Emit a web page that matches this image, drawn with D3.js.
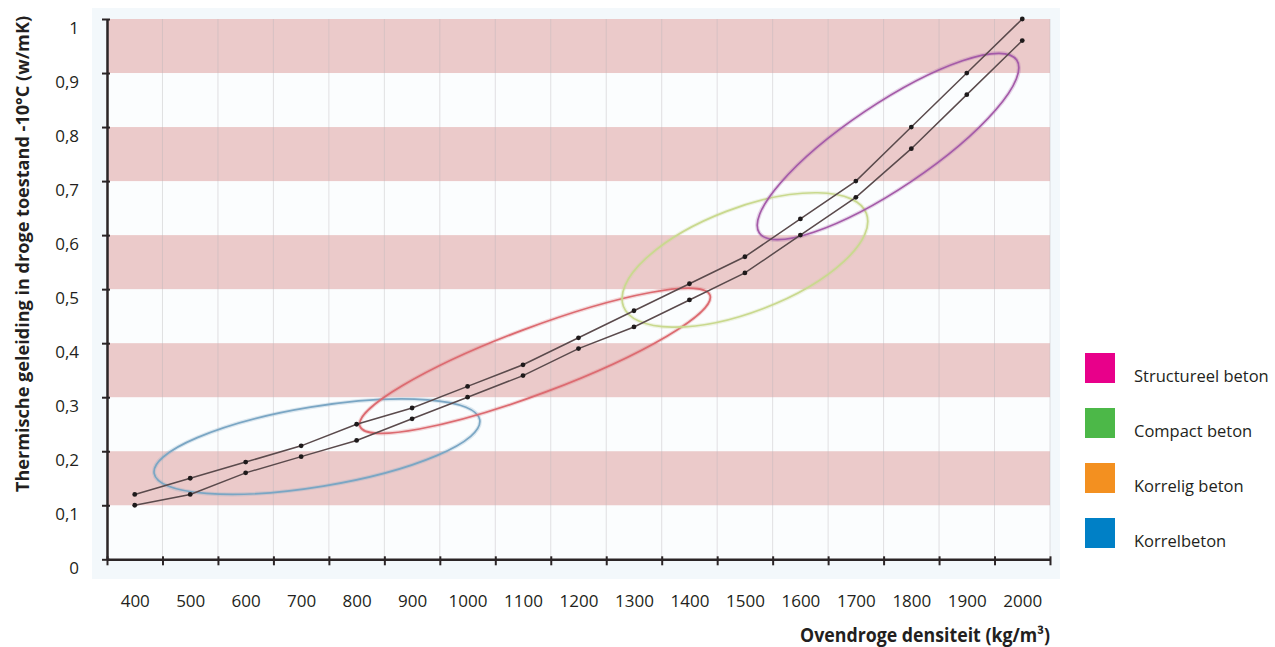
<!DOCTYPE html>
<html>
<head>
<meta charset="utf-8">
<script src="https://cdn.jsdelivr.net/npm/d3@7"></script>
<style>
  html, body { margin: 0; padding: 0; background: #ffffff; }
  svg { display: block; }
  text { font-family: "Open Sans", "Noto Sans", sans-serif; fill: #231f20; }
</style>
</head>
<body>
<svg id="chart" width="1275" height="647"></svg>
<script>
// ---------------- data ----------------
const densities = [400, 500, 600, 700, 800, 900, 1000, 1100, 1200, 1300, 1400, 1500, 1600, 1700, 1800, 1900, 2000];
const upperValues = [0.12, 0.15, 0.18, 0.21, 0.25, 0.28, 0.32, 0.36, 0.41, 0.46, 0.51, 0.56, 0.63, 0.70, 0.80, 0.90, 1.00];
const lowerValues = [0.10, 0.12, 0.16, 0.19, 0.22, 0.26, 0.30, 0.34, 0.39, 0.43, 0.48, 0.53, 0.60, 0.67, 0.76, 0.86, 0.96];
const xTickLabels = ["400","500","600","700","800","900","1000","1100","1200","1300","1400","1500","1600","1700","1800","1900","2000"];
const yTickValues = [0, 0.1, 0.2, 0.3, 0.4, 0.5, 0.6, 0.7, 0.8, 0.9, 1];
const yTickLabels = ["0","0,1","0,2","0,3","0,4","0,5","0,6","0,7","0,8","0,9","1"];
const stripeBands = [[0.1, 0.2], [0.3, 0.4], [0.5, 0.6], [0.7, 0.8], [0.9, 1.0]];
const legendNames = ["Structureel beton", "Compact beton", "Korrelig beton", "Korrelbeton"];
const legendColors = ["#e8008a", "#4cb848", "#f39020", "#0080c6"];
// ellipse annotations: two tips of the major axis (density, value)
const ellipseNames = ["Korrelbeton", "Korrelig beton", "Compact beton", "Structureel beton"];
const ellipseTipA = [[435, 0.159], [806, 0.246], [1281, 0.468], [1526, 0.604]];
const ellipseTipB = [[1022, 0.258], [1437, 0.489], [1719, 0.640], [1990, 0.924]];
const ellipseColors = ["#7aa6c4", "#dc6a70", "#c9d98e", "#a45aa8"];

// ---------------- layout ----------------
const L = 107, R = 1050, T = 19, B = 559.3;
const svg = d3.select("#chart");
const x = d3.scaleLinear().domain([350, 2050]).range([L, R]);
const y = d3.scaleLinear().domain([0, 1]).range([B, T]);
const boundaries = d3.range(350, 2051, 100);

// background panel
svg.append("rect").attr("x", 92).attr("y", 8).attr("width", 968).attr("height", 571)
  .attr("fill", "#f3f8fb");
svg.append("rect").attr("x", L).attr("y", T).attr("width", R - L).attr("height", B - T)
  .attr("fill", "#fbfdfe");

// stripes
svg.append("g").selectAll("rect").data(stripeBands).join("rect")
  .attr("x", L).attr("width", R - L)
  .attr("y", d => y(d[1])).attr("height", d => y(d[0]) - y(d[1]))
  .attr("fill", "#ebcaca");

// vertical grid
svg.append("g").selectAll("line").data(boundaries).join("line")
  .attr("x1", d => x(d)).attr("x2", d => x(d))
  .attr("y1", T).attr("y2", B)
  .attr("stroke", "#b9b4b8").attr("stroke-opacity", 0.4).attr("stroke-width", 1);

// ellipses
const ell = svg.append("g");
ellipseTipA.forEach((a, i) => {
  const b = ellipseTipB[i];
  const x1 = x(a[0]), y1 = y(a[1]), x2 = x(b[0]), y2 = y(b[1]);
  const cx = (x1 + x2) / 2, cy = (y1 + y2) / 2;
  const rx = Math.hypot(x2 - x1, y2 - y1) / 2;
  const ang = Math.atan2(y2 - y1, x2 - x1) * 180 / Math.PI;
  const ry = [40, 33, 52, 42][i];
  const g = ell.append("g").attr("transform", `translate(${cx},${cy}) rotate(${ang})`);
  g.append("ellipse").attr("rx", rx).attr("ry", ry)
    .attr("fill", "none").attr("stroke", ellipseColors[i]).attr("stroke-opacity", 0.25).attr("stroke-width", 4);
  g.append("ellipse").attr("rx", rx).attr("ry", ry)
    .attr("fill", "none").attr("stroke", ellipseColors[i]).attr("stroke-width", 1.7);
});

// lines
const line = d3.line().x((d, i) => x(densities[i])).y(d => y(d));
[upperValues, lowerValues].forEach(vals => {
  svg.append("path").datum(vals).attr("d", line)
    .attr("fill", "none").attr("stroke", "#5a4a4c").attr("stroke-width", 1.5);
  svg.append("g").selectAll("circle").data(vals).join("circle")
    .attr("cx", (d, i) => x(densities[i])).attr("cy", d => y(d)).attr("r", 2.4)
    .attr("fill", "#1e1a1b");
});

// y axis
const yAxis = svg.append("g").attr("transform", `translate(${L},0)`)
  .call(d3.axisLeft(y).tickValues(yTickValues).tickSize(5).tickSizeOuter(0)
    .tickFormat((d, i) => yTickLabels[i]));
yAxis.select(".domain").attr("stroke", "#2b2526").attr("stroke-width", 2.5);
yAxis.selectAll(".tick line").attr("x1", 3).attr("x2", -5).attr("stroke", "#2b2526").attr("stroke-width", 2);
yAxis.selectAll(".tick text").attr("x", -28).attr("dy", null).attr("y", 14)
  .style("font-size", "17px").attr("fill", "#231f20");

// x axis (tick marks at boundaries)
const xAxis = svg.append("g").attr("transform", `translate(0,${B})`)
  .call(d3.axisBottom(x).tickValues(boundaries).tickSize(6).tickSizeOuter(0).tickFormat(""));
xAxis.select(".domain").attr("stroke", "#2b2526").attr("stroke-width", 2.5);
xAxis.selectAll(".tick line").attr("y1", -3).attr("y2", 6).attr("stroke", "#2b2526").attr("stroke-width", 2);

// x labels centered in each band
const xLab = svg.append("g").attr("transform", `translate(0,${B})`)
  .call(d3.axisBottom(x).tickValues(densities).tickSize(0).tickFormat((d, i) => xTickLabels[i]));
xLab.select(".domain").remove();
xLab.selectAll(".tick text").attr("dy", null).attr("y", 48)
  .style("font-size", "17px").attr("fill", "#231f20");

// axis titles
svg.append("text")
  .attr("transform", "translate(29,254) rotate(-90)")
  .attr("text-anchor", "middle")
  .attr("textLength", 476).attr("lengthAdjust", "spacingAndGlyphs")
  .style("font-size", "18px").style("font-weight", "bold")
  .text("Thermische geleiding in droge toestand -10°C (w/mK)");
svg.append("text")
  .attr("x", 1050).attr("y", 642).attr("text-anchor", "end")
  .attr("textLength", 250).attr("lengthAdjust", "spacingAndGlyphs")
  .style("font-size", "19px").style("font-weight", "bold")
  .text("Ovendroge densiteit (kg/m³)");

// legend
const lg = svg.append("g");
legendNames.forEach((n, i) => {
  const yy = 353 + i * 55;
  lg.append("rect").attr("x", 1085).attr("y", yy).attr("width", 30).attr("height", 30)
    .attr("fill", legendColors[i]);
  lg.append("text").attr("x", 1134).attr("y", yy + 29)
    .style("font-size", "16.5px").text(n);
});
</script>
</body>
</html>
